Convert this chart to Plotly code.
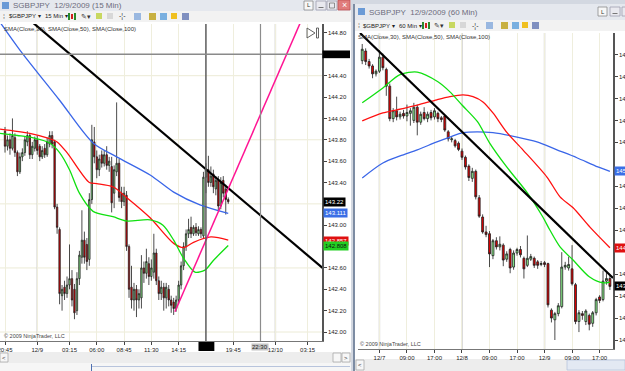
import plotly.graph_objects as go

W, H = 625, 371
FONT = "Liberation Sans"

# ---------------- Left chart: $GBPJPY 15 Min (bar index, 0 = 12/8 20:45) ----------------
left_bar = list(range(91))
left_open = [143.88,143.74,143.80,143.72,143.82,143.68,143.50,143.64,143.68,143.78,
             143.84,143.66,143.72,143.80,143.74,143.64,143.72,143.66,143.76,143.84,
             143.78,143.17,142.96,142.34,142.42,142.36,142.44,142.50,142.40,142.20,
             142.50,142.70,142.86,142.82,142.68,143.24,143.78,143.64,143.52,143.66,
             143.58,143.66,143.56,143.55,143.30,143.50,143.58,143.30,143.22,143.28,
             142.80,142.42,142.30,142.40,142.30,142.32,142.60,142.55,142.64,142.52,
             142.56,142.74,142.48,142.36,142.42,142.32,142.40,142.30,142.28,142.22,
             142.30,142.44,142.62,142.80,142.92,142.98,142.92,142.98,142.92,142.96,
             142.90,143.45,143.52,143.40,143.48,143.34,143.42,143.18,143.42,143.34,
             143.24]
left_high = [143.92,143.84,143.86,144.00,143.86,143.70,143.68,143.72,143.83,143.88,
             143.86,143.78,143.83,143.84,143.76,143.74,143.76,143.82,143.88,143.88,
             143.80,143.20,142.98,142.44,142.48,142.52,142.82,142.58,142.45,142.56,
             142.76,143.14,142.94,142.88,143.30,143.94,143.92,143.70,143.66,143.70,
             143.70,143.74,143.64,143.64,143.56,144.15,143.62,143.36,143.36,143.32,
             142.82,142.62,142.46,142.44,142.40,142.72,142.66,142.78,142.70,142.68,
             142.92,142.78,142.52,142.48,142.46,142.46,142.44,142.34,142.32,142.34,
             142.48,142.66,142.84,142.96,143.06,143.08,143.00,143.02,142.99,142.98,
             143.50,143.58,143.65,143.55,143.52,143.46,143.46,143.45,143.46,143.38,
             143.26]
left_low = [143.68,143.70,143.66,143.70,143.64,143.46,143.48,143.60,143.65,143.74,
            143.62,143.62,143.69,143.66,143.60,143.62,143.63,143.64,143.73,143.72,
            143.15,142.92,142.26,142.20,142.30,142.32,142.40,142.24,142.12,142.16,
            142.44,142.64,142.64,142.58,142.62,143.20,143.58,143.44,143.46,143.54,
            143.55,143.52,143.50,143.12,143.16,143.46,143.22,143.16,143.18,142.76,
            142.32,142.22,142.20,142.14,142.22,142.22,142.46,142.50,142.44,142.48,
            142.50,142.44,142.30,142.30,142.20,142.22,142.24,142.18,142.16,142.19,
            142.26,142.40,142.58,142.76,142.88,142.88,142.90,142.90,142.90,142.88,
            142.88,143.30,143.36,143.36,143.30,143.28,143.14,143.15,143.26,143.10,
            143.20]
left_close = [143.74,143.80,143.72,143.84,143.68,143.50,143.64,143.68,143.80,143.84,
              143.66,143.74,143.80,143.70,143.64,143.70,143.66,143.78,143.84,143.76,
              143.17,142.98,142.36,142.40,142.36,142.44,142.50,142.30,142.18,142.50,
              142.72,142.86,142.70,142.66,143.24,143.80,143.64,143.52,143.62,143.58,
              143.66,143.56,143.60,143.21,143.52,143.58,143.26,143.22,143.30,142.80,
              142.40,142.30,142.40,142.30,142.36,142.60,142.55,142.66,142.52,142.60,
              142.74,142.48,142.36,142.42,142.32,142.42,142.30,142.25,142.22,142.30,
              142.44,142.62,142.80,142.92,142.96,142.92,142.98,142.93,142.96,142.92,
              143.45,143.52,143.40,143.46,143.36,143.42,143.18,143.40,143.30,143.24,
              143.22]

left_sma30_bar = [-2, 5, 11, 18, 22, 26, 30, 35.5, 43.5, 49, 58.5, 63.7, 68, 72, 76.6, 80.6, 84, 90]
left_sma30 = [143.86, 143.84, 143.82, 143.77, 143.68, 143.52, 143.30, 143.13, 143.08, 143.04,
              143.05, 143.00, 142.86, 142.69, 142.56, 142.58, 142.67, 142.81]
left_sma50_bar = [-2, 10, 18, 21, 25, 34, 37, 43.5, 49, 58.5, 68, 72, 76, 83, 90]
left_sma50 = [143.90, 143.86, 143.81, 143.78, 143.68, 143.40, 143.39, 143.36, 143.26, 143.07,
              142.83, 142.79, 142.84, 142.89, 142.86]
left_sma100_bar = [-2, 6, 22, 35.5, 45, 58.5, 68, 78.6, 90]
left_sma100 = [144.90, 144.64, 144.17, 143.77, 143.64, 143.47, 143.31, 143.19, 143.11]

left_trend_bar = [8, 128]
left_trend = [144.96, 142.60]
left_up_bar = [68.5, 121]
left_up = [142.19, 145.0]
left_hline = 144.60

left_tick_bars = [0, 13, 26, 37, 48, 59, 70, 92, 109, 122]
left_tick_text = ["20:45", "12/9", "03:15", "06:00", "08:45", "11:30", "14:15", "19:45", "12/10", "03:15"]
# 142.80, 143.20 and 144.60 sit under the price tags / line marker
left_price_ticks = [142.0, 142.2, 142.4, 142.6, 143.0, 143.4, 143.6, 143.8,
                    144.0, 144.2, 144.4, 144.8]
left_grid_levels = [142.0, 142.6, 143.2, 143.8, 144.4]
left_tags = [(143.22, "143.22", "#000000", "#ffffff"),
             (143.111, "143.111", "#3b6fe6", "#ffffff"),
             (142.857, "142.857", "#e01010", "#ffffff"),
             (142.808, "142.808", "#22d022", "#111111")]

# ---------------- Right chart: $GBPJPY 60 Min (hours from 12/7 00:00) ----------------
right_bar = list(range(-4, 69))
right_open = [148.36,148.58,148.34,148.24,148.06,148.12,148.44,148.16,147.78,147.04,
              147.22,147.08,147.16,147.10,147.16,147.00,147.30,146.96,147.18,147.04,
              147.18,147.08,147.16,147.06,147.10,146.74,146.56,146.54,146.48,146.30,
              146.16,145.96,145.68,145.84,145.24,144.80,144.46,144.42,143.92,144.26,
              144.12,144.16,143.84,144.06,143.66,143.98,144.06,143.86,143.70,143.84,
              143.86,143.78,143.72,143.76,143.74,142.68,142.46,142.60,142.76,143.66,
              143.64,143.62,143.26,142.42,142.60,142.42,142.56,142.38,142.62,142.98,
              142.92,143.34,143.40]
right_high = [148.74,148.64,148.40,148.28,148.16,148.60,148.52,148.20,147.84,147.28,
              147.54,147.20,147.24,147.36,147.28,147.40,147.36,147.20,147.30,147.20,
              147.24,147.28,147.20,147.10,147.12,146.78,146.64,146.58,146.52,146.36,
              146.20,146.00,145.92,145.88,145.30,144.86,144.60,144.48,144.30,144.34,
              144.36,144.20,144.02,144.10,144.04,144.10,144.14,143.90,144.38,143.96,
              143.90,143.82,143.80,143.80,143.76,142.72,142.64,142.84,144.00,143.78,
              143.90,144.16,143.30,142.68,142.66,142.70,142.60,142.66,142.96,143.02,
              143.58,143.56,143.46]
right_low = [148.28,148.26,148.18,147.96,148.00,148.08,148.14,147.56,146.98,146.96,
             147.00,147.02,147.04,146.98,146.88,146.94,146.66,146.90,147.00,146.96,
             147.00,147.02,146.96,146.96,146.74,146.52,146.50,146.38,146.30,146.10,
             145.88,145.62,145.60,145.20,144.78,144.42,144.34,143.66,143.84,144.06,
             144.04,143.68,143.78,143.52,143.60,143.92,143.88,143.40,143.66,143.80,
             143.64,143.62,143.68,143.66,142.74,142.40,142.00,142.54,142.72,143.60,
             143.58,143.24,142.36,142.18,142.46,142.34,142.22,142.30,142.56,142.84,
             142.88,143.26,143.14]
right_close = [148.62,148.34,148.24,148.06,148.12,148.44,148.20,147.78,147.04,147.22,
               147.08,147.14,147.10,147.18,147.22,147.30,146.96,147.14,147.04,147.14,
               147.06,147.22,147.04,147.02,146.78,146.58,146.58,146.42,146.34,146.16,
               145.94,145.70,145.84,145.26,144.82,144.46,144.40,143.96,144.26,144.12,
               144.18,143.82,143.96,143.64,143.98,144.06,143.94,143.62,143.86,143.90,
               143.70,143.70,143.74,143.72,142.80,142.50,142.60,142.78,143.66,143.70,
               143.72,143.28,142.42,142.62,142.56,142.66,142.36,142.62,142.92,142.90,
               143.34,143.40,143.22]

right_sma30_bar = [-4, 2, 7, 12, 18, 21.5, 25, 29.5, 33, 38, 44, 48.5, 50.5, 53.5, 57.3, 62, 66, 68]
right_sma30 = [147.40, 147.74, 148.04, 148.10, 147.88, 147.65, 147.35, 146.97, 146.49, 145.94,
               145.35, 144.80, 144.51, 144.12, 143.82, 143.44, 143.30, 143.32]
right_sma50_bar = [-4, 2, 6, 12, 17.7, 21.5, 25.3, 28.2, 31.1, 34, 38.1, 42.7, 49.7, 53.5, 57.3, 62.2, 68]
right_sma50 = [146.99, 147.17, 147.24, 147.35, 147.47, 147.54, 147.58, 147.54, 147.42, 147.17,
               146.72, 146.33, 145.71, 145.26, 145.01, 144.57, 144.10]
right_sma100_bar = [-4, 2, 7, 12, 17.7, 21.5, 25.3, 29.4, 34, 41, 46.8, 52.6, 58.4, 64.5, 68]
right_sma100 = [145.69, 146.03, 146.19, 146.33, 146.51, 146.62, 146.72, 146.74, 146.72, 146.62,
                146.51, 146.33, 146.15, 145.94, 145.84]
right_trend_bar = [-4.65, 68.9]
right_trend = [148.99, 143.41]

right_tick_bars = [1, 9, 17, 25, 33, 41, 49, 57, 65]
right_tick_text = ["12/7", "09:00", "17:00", "12/8", "09:00", "17:00", "12/9", "09:00", "17:00"]
right_day_bars = [1, 25, 49]
# 144.00 and 146.00 sit under the price tags
right_price_ticks = [142.0, 142.5, 143.0, 143.5, 144.5, 145.0, 145.5, 146.5,
                     147.0, 147.5, 148.0, 148.5]
right_tags = [(145.84, "145.844", "#3b6fe6", "#ffffff"),
              (144.10, "144.102", "#e01010", "#ffffff"),
              (143.22, "143.22", "#000000", "#ffffff")]


# ---------------- helpers ----------------
def px(x):
    return x / W


def py(y):
    return 1 - y / H


shapes = []
annos = []


def rect(x0, y0, x1, y1, fill, line=None, lw=0, layer="below"):
    shapes.append(dict(type="rect", xref="paper", yref="paper",
                       x0=px(x0), x1=px(x1), y0=py(y1), y1=py(y0),
                       fillcolor=fill, line=dict(color=line or fill, width=lw), layer=layer))


def txt(x, y, s, size=6, color="#222222", xanchor="left", bg="rgba(0,0,0,0)", xref="paper", yref="paper"):
    annos.append(dict(xref=xref, yref=yref,
                      x=px(x) if xref == "paper" else x,
                      y=py(y) if yref == "paper" else y,
                      text=s, showarrow=False, xanchor=xanchor, yanchor="middle",
                      font=dict(size=size, color=color, family=FONT),
                      bgcolor=bg, borderpad=0))


# ---------------- window chrome ----------------
# left window
rect(0, 0, 351, 371, "#ffffff")
rect(0, 0, 351, 11, "#e5e8ee")
rect(2, 2, 9, 9, "#6a9ad6")
txt(12, 5.5, "SGBPJPY  12/9/2009 (15 Min)", size=8, color="#6c6c7c")
rect(304, 1, 313, 10, "#f7f7f7", line="#8a8a8a", lw=0.8)
txt(308.5, 5.5, "L", size=6, color="#333", xanchor="center")
rect(316, 1, 326, 10, "#e9e9ef", line="#a0a0b0", lw=0.8)
rect(318.5, 7, 323.5, 8, "#777777")
rect(327, 1, 337, 10, "#e9e9ef", line="#a0a0b0", lw=0.8)
rect(329.5, 3, 334.5, 8, "#e9e9ef", line="#777777", lw=0.8)
rect(338, 0, 350, 10, "#e07c7c", line="#c05050", lw=0.8)
txt(344, 5, "×", size=9, color="#ffffff", xanchor="center")
rect(0, 11, 351, 22, "#f2f2f2")
txt(1.5, 16.5, "⁞", size=7, color="#666")
txt(8, 16.5, "$GBPJPY ▾", size=6, color="#222")
txt(44, 16.5, "15 Min ▾", size=6, color="#222")
rect(68, 13, 70, 20, "#2a8a2a")
rect(71, 14, 73, 19, "#d02020")
rect(74, 13, 76, 20, "#2a8a2a")
txt(80, 16.5, "✎▾", size=7, color="#333")
rect(96, 13, 102, 19, "#c8d860")
rect(107, 13, 113, 19, "#d8d8d8")
txt(118, 16.5, "-¦-", size=7, color="#333")
rect(134, 13, 141, 20, "#9ab8e0")
rect(149, 13, 156, 20, "#c8b040")
rect(160, 13, 167, 20, "#7ab0e0")
rect(171, 13, 177, 19, "#f0c020")
rect(182, 13, 189, 20, "#8090c0")
rect(0, 352, 351, 363, "#ededed")
rect(0, 353, 8, 362, "#f7f7f7", line="#aaaaaa", lw=0.8)
txt(4, 357.5, "<", size=6, color="#333", xanchor="center")
rect(333, 353, 341, 362, "#f7f7f7", line="#aaaaaa", lw=0.8)
rect(342, 353, 350, 362, "#f7f7f7", line="#aaaaaa", lw=0.8)
txt(346, 357.5, ">", size=6, color="#333", xanchor="center")
rect(0, 363, 351, 371, "#f6f6f6")
rect(91, 366, 350, 367, "#b8c4dc")
rect(91, 364, 92, 371, "#5070b0")

# right window
rect(354, 4, 625, 371, "#ffffff")
rect(353, 4, 355, 371, "#7d8ca3")
rect(355, 4, 625, 20, "#e5e8ee")
rect(358, 8, 365, 15, "#6a9ad6")
txt(368, 12, "SGBPJPY  12/9/2009 (60 Min)", size=8, color="#6c6c7c")
rect(598, 7, 607, 16, "#f7f7f7", line="#8a8a8a", lw=0.8)
txt(602.5, 11.5, "L", size=6, color="#333", xanchor="center")
rect(610, 7, 620, 16, "#e9e9ef", line="#a0a0b0", lw=0.8)
rect(612.5, 13, 617.5, 14, "#777777")
rect(622, 7, 630, 16, "#e9e9ef", line="#a0a0b0", lw=0.8)
rect(355, 20, 625, 31, "#f2f2f2")
txt(357, 25.5, "⁞", size=7, color="#666")
txt(362, 25.5, "$GBPJPY ▾", size=6, color="#222")
txt(398, 25.5, "60 Min ▾", size=6, color="#222")
rect(422, 22, 424, 29, "#2a8a2a")
rect(425, 23, 427, 28, "#d02020")
rect(428, 22, 430, 29, "#2a8a2a")
txt(433, 25.5, "✎▾", size=7, color="#333")
rect(449, 22, 455, 28, "#c8d860")
rect(460, 22, 466, 28, "#d8d8d8")
txt(471, 25.5, "-¦-", size=7, color="#333")
rect(486, 22, 493, 29, "#9ab8e0")
rect(501, 22, 508, 29, "#c8b040")
rect(512, 22, 519, 29, "#7ab0e0")
rect(522, 22, 528, 28, "#f0c020")
rect(532, 22, 539, 29, "#8090c0")
rect(355, 359, 625, 371, "#ededed")
rect(356, 360, 364, 370, "#f7f7f7", line="#aaaaaa", lw=0.8)
txt(360, 365, "<", size=6, color="#333", xanchor="center")
rect(567, 360, 625, 370, "#e3e9f3", line="#b8c4dc", lw=0.8)

# ---------------- in-chart objects ----------------
for lv in left_grid_levels:
    shapes.append(dict(type="line", xref="paper", yref="y", x0=0, x1=px(322), y0=lv, y1=lv,
                       line=dict(color="#ecebd6", width=1), layer="below"))
for b in [13, 109]:
    shapes.append(dict(type="line", xref="x", yref="paper", x0=b, x1=b, y0=py(341), y1=py(24),
                       line=dict(color="#cfcfcf", width=1.5), layer="below"))
for b in right_day_bars:
    shapes.append(dict(type="line", xref="x2", yref="paper", x0=b, x1=b, y0=py(349), y1=py(33),
                       line=dict(color="#cfcfcf", width=1.5), layer="below"))
shapes.append(dict(type="line", xref="x", yref="paper", x0=81, x1=81, y0=py(341), y1=py(24),
                   line=dict(color="#5c5c5c", width=1.5), layer="above"))
shapes.append(dict(type="line", xref="x", yref="paper", x0=103, x1=103, y0=py(341), y1=py(24),
                   line=dict(color="#8c8c8c", width=1.2), layer="above"))
shapes.append(dict(type="line", xref="paper", yref="y", x0=0, x1=px(322), y0=left_hline, y1=left_hline,
                   line=dict(color="#8a8a8a", width=1.5), layer="above"))
shapes.append(dict(type="rect", xref="paper", yref="y", x0=px(322.5), x1=px(350), y0=left_hline - 0.036,
                   y1=left_hline + 0.036, fillcolor="#000000", line=dict(width=0), layer="above"))
shapes.append(dict(type="rect", xref="x", yref="paper", x0=78, x1=84.4, y0=py(351), y1=py(342),
                   fillcolor="#000000", line=dict(width=0), layer="above"))
txt(103, 346.5, "22:30", size=6, color="#222", xanchor="center", bg="#c4c4c4", xref="x")
shapes.append(dict(type="path", xref="paper", yref="paper",
                   path=f"M {px(307)} {py(28)} L {px(307)} {py(38)} L {px(315)} {py(33)} Z",
                   line=dict(color="#555555", width=0.9), fillcolor="rgba(0,0,0,0)", layer="above"))
rect(316.5, 28, 318.5, 38, "rgba(0,0,0,0)", line="#555555", lw=0.9, layer="above")

txt(3, 29, "SMA(Close,30), SMA(Close,50), SMA(Close,100)", size=6, color="#333")
txt(357, 37, "SMA(Close,30), SMA(Close,50), SMA(Close,100)", size=6, color="#333")
txt(3, 336, "© 2009 NinjaTrader, LLC", size=5.5, color="#444")
txt(359, 344, "© 2009 NinjaTrader, LLC", size=5.5, color="#444")

for val, label, bg, fg in left_tags:
    annos.append(dict(xref="paper", yref="y", x=px(323), y=val, text=label, showarrow=False,
                      xanchor="left", yanchor="middle", font=dict(size=6, color=fg, family=FONT),
                      bgcolor=bg, borderpad=1))
for val, label, bg, fg in right_tags:
    annos.append(dict(xref="paper", yref="y2", x=px(614), y=val, text=label, showarrow=False,
                      xanchor="left", yanchor="middle", font=dict(size=6, color=fg, family=FONT),
                      bgcolor=bg, borderpad=1))

# ---------------- traces ----------------
fig = go.Figure()
inc = dict(fillcolor="#8cf08c", line=dict(color="#1e1e1e", width=0.8))
dec = dict(fillcolor="#e00000", line=dict(color="#1e1e1e", width=0.8))

fig.add_trace(go.Candlestick(x=left_bar, open=left_open, high=left_high, low=left_low, close=left_close,
                             xaxis="x", yaxis="y", increasing=inc, decreasing=dec, whiskerwidth=0,
                             hoverinfo="skip"))
fig.add_trace(go.Candlestick(x=right_bar, open=right_open, high=right_high, low=right_low, close=right_close,
                             xaxis="x2", yaxis="y2", increasing=inc, decreasing=dec, whiskerwidth=0,
                             hoverinfo="skip"))


def line(xs, ys, color, width, ax, spline=True):
    fig.add_trace(go.Scatter(x=xs, y=ys, mode="lines", xaxis=ax[0], yaxis=ax[1], hoverinfo="skip",
                             line=dict(color=color, width=width, shape="spline" if spline else "linear",
                                       smoothing=0.8)))


line(left_sma100_bar, left_sma100, "#3a66e8", 1.3, ("x", "y"))
line(left_sma50_bar, left_sma50, "#ff1010", 1.3, ("x", "y"))
line(left_sma30_bar, left_sma30, "#10e010", 1.3, ("x", "y"))
line(left_trend_bar, left_trend, "#000000", 2.2, ("x", "y"), spline=False)
line(left_up_bar, left_up, "#ff1493", 1.5, ("x", "y"), spline=False)

line(right_sma100_bar, right_sma100, "#3a66e8", 1.3, ("x2", "y2"))
line(right_sma50_bar, right_sma50, "#ff1010", 1.3, ("x2", "y2"))
line(right_sma30_bar, right_sma30, "#10e010", 1.3, ("x2", "y2"))
line(right_trend_bar, right_trend, "#000000", 2.2, ("x2", "y2"), spline=False)

axis_font = dict(size=6, color="#222222", family=FONT)
common = dict(tickfont=axis_font, ticks="outside", ticklen=3, tickcolor="#444", zeroline=False,
              automargin=False, ticklabeloverflow="allow", fixedrange=True, showline=True)
fig.update_layout(
    width=W, height=H, margin=dict(l=0, r=0, t=0, b=0, pad=0, autoexpand=False),
    paper_bgcolor="#d3d8e1", plot_bgcolor="#ffffff",
    showlegend=False, boxgap=0.2, hovermode=False,
    font=dict(family=FONT),
    xaxis=dict(domain=[0, px(322)], range=[-2.02, 127.8], anchor="y",
               tickvals=left_tick_bars, ticktext=left_tick_text,
               showgrid=True, gridcolor="#efeedd", linecolor="#777777", linewidth=1,
               rangeslider=dict(visible=False), **common),
    yaxis=dict(domain=[py(341), py(24)], range=[141.916, 144.884], anchor="x", side="right",
               tickvals=left_price_ticks, tickformat=".2f", showgrid=False,
               linecolor="#555555", linewidth=1.5, **common),
    xaxis2=dict(domain=[px(358), px(613)], range=[-5.23, 68.9], anchor="y2",
                tickvals=right_tick_bars, ticktext=right_tick_text,
                showgrid=True, gridcolor="#efeedd", linecolor="#777777", linewidth=1,
                rangeslider=dict(visible=False), **common),
    yaxis2=dict(domain=[py(349), py(33)], range=[141.795, 148.99], anchor="x2", side="right",
                tickvals=right_price_ticks, tickformat=".2f", showgrid=False,
                linecolor="#555555", linewidth=1.5, **common),
    shapes=shapes, annotations=annos,
)

fig.write_html("out.html")
